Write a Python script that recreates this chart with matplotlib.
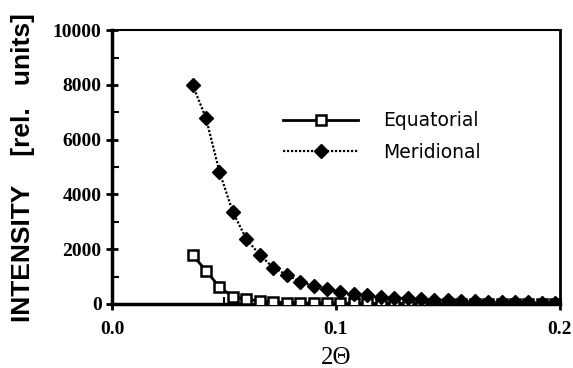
#!/usr/bin/env python3
"""Small-angle scattering intensity, equatorial vs meridional."""

import matplotlib
matplotlib.use("Agg")
import matplotlib.pyplot as plt
from matplotlib.ticker import MultipleLocator

# 2-theta positions (shared by both series)
two_theta = [0.036, 0.042, 0.048, 0.054, 0.060, 0.066, 0.072, 0.078,
             0.084, 0.090, 0.096, 0.102, 0.108, 0.114, 0.120, 0.126,
             0.132, 0.138, 0.144, 0.150, 0.156, 0.162, 0.168, 0.174,
             0.180, 0.186, 0.192, 0.198]

meridional = [8000, 6780, 4820, 3350, 2370, 1790, 1330, 1060,
              820, 660, 540, 440, 370, 310, 250, 230,
              210, 175, 155, 140, 120, 105, 90, 80,
              70, 60, 50, 40]

equatorial = [1780, 1220, 610, 270, 170, 110, 70, 50,
              40, 35, 30, 30, 25, 25, 20, 20,
              20, 15, 15, 15, 10, 10, 10, 10,
              10, 10, 5, 5]

x_ticks = [0.0, 0.1, 0.2]
x_ticklabels = ["0.0", "0.1", "0.2"]
y_ticks = [0, 2000, 4000, 6000, 8000, 10000]

SERIF = "Liberation Serif"
SANS = "Liberation Sans"

plt.rcParams["font.family"] = SERIF
plt.rcParams["font.weight"] = "bold"


def main():
    fig = plt.figure(figsize=(5.73, 3.68), dpi=100)
    ax = fig.add_axes([0.1955, 0.174, 0.7815, 0.744])

    ax.plot(two_theta, equatorial, color="black", lw=2, ls="-",
            marker="s", ms=6.5, mfc="white", mec="black", mew=1.8,
            label="Equatorial", zorder=3)
    ax.plot(two_theta, meridional, color="black", lw=1.6, ls=(0, (1, 0.8)),
            marker="D", ms=7, mfc="black", mec="black",
            label="Meridional", zorder=4)

    ax.set_xlim(0.0, 0.2)
    ax.set_ylim(0, 10000)
    ax.set_xticks(x_ticks)
    ax.set_xticklabels(x_ticklabels)
    ax.set_yticks(y_ticks)
    ax.xaxis.set_minor_locator(MultipleLocator(0.05))
    ax.yaxis.set_minor_locator(MultipleLocator(1000))

    ax.tick_params(which="major", direction="inout", length=9, width=2,
                   labelsize=14)
    ax.tick_params(which="minor", direction="in", length=5, width=1.5)
    ax.tick_params(axis="x", pad=8)
    ax.tick_params(axis="y", pad=3)

    ax.spines["left"].set_linewidth(2.5)
    ax.spines["bottom"].set_linewidth(2.5)
    ax.spines["right"].set_linewidth(2)
    ax.spines["top"].set_linewidth(1.5)

    ax.set_ylabel("INTENSITY    [rel.   units]", fontfamily=SANS,
                  fontweight="bold", fontsize=19, labelpad=13)
    ax.set_xlabel("2\u0398", fontfamily=SERIF, fontweight="normal",
                  fontsize=18, labelpad=6)

    ax.legend(loc="upper left", bbox_to_anchor=(0.345, 0.765),
              frameon=False, handlelength=4.0, handletextpad=1.3,
              labelspacing=0.65,
              prop={"family": "DejaVu Sans", "weight": "normal", "size": 13.5})

    fig.savefig("out.png", dpi=100, facecolor="white")


if __name__ == "__main__":
    main()
